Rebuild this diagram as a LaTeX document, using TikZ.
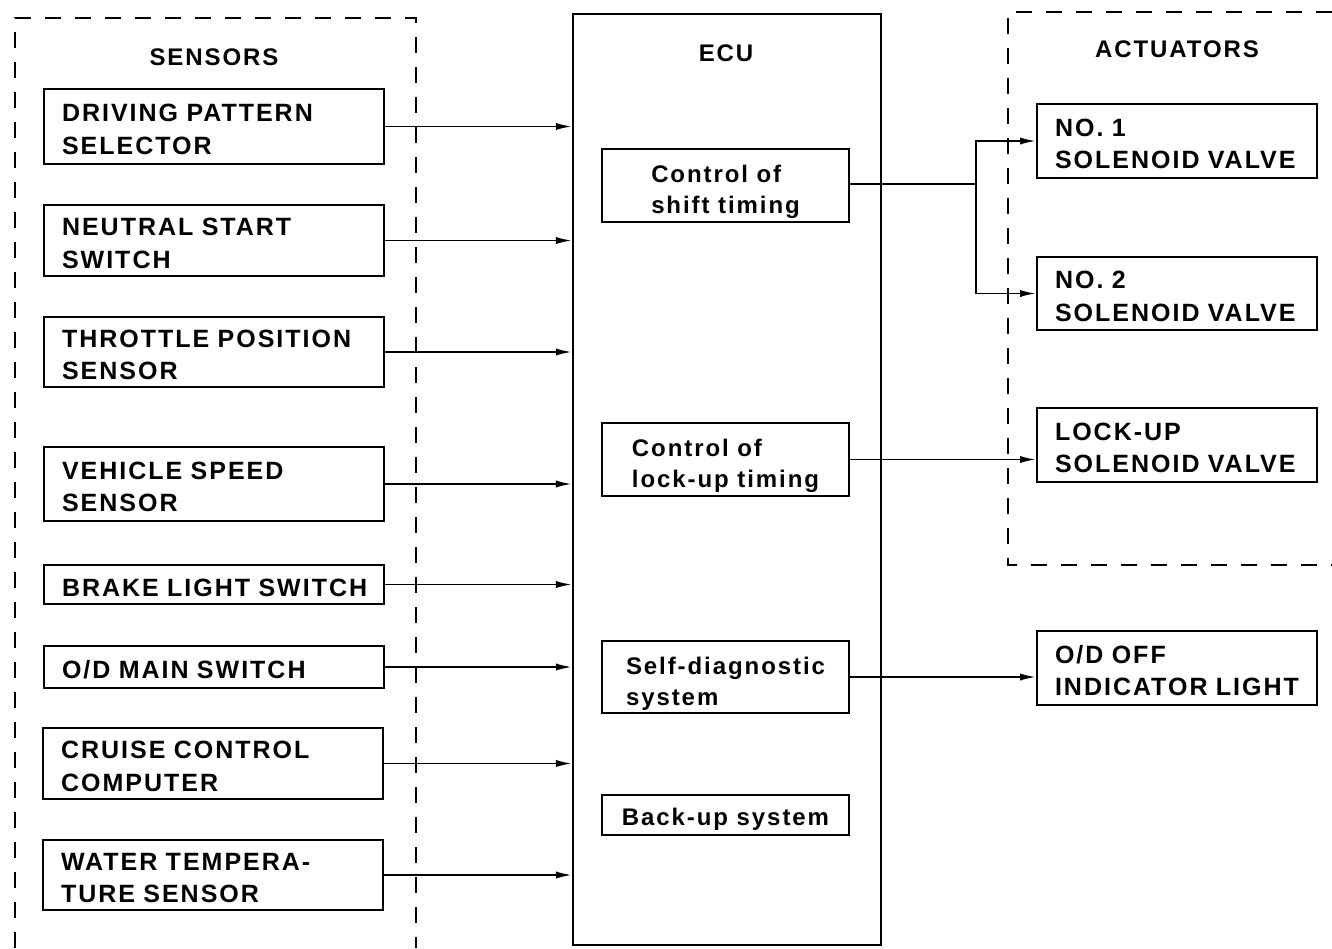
\documentclass[tikz,border=0pt]{standalone}
\usepackage{fontspec}
\setmainfont{Liberation Sans}[LetterSpace=8]
\usetikzlibrary{arrows.meta}
\newcommand{\cstrut}{\rule{0pt}{15.5pt}}
\newcommand{\sstrut}{\rule{0pt}{12.5pt}}
\begin{document}
\begin{tikzpicture}[x=0.5pt,y=-0.5pt,
  font=\bfseries\fontsize{12}{16.3}\selectfont,
  box/.style={draw, line width=1pt, inner ysep=0pt, inner xsep=9pt,
    execute at begin node={\rule{0pt}{14.5pt}},
    execute at end node={\rule[-3pt]{0pt}{3pt}}},
  capsfont/.style={font=\bfseries\fontsize{12.5}{16.4}\selectfont},
  sbox/.style={box, capsfont, text width=152pt, align=left},
  abox/.style={box, capsfont, text width=122pt, align=left},
  cbox/.style={draw, line width=1pt, inner ysep=0pt,
    font=\bfseries\fontsize{12}{15.5}\selectfont,
    minimum width=123.5pt, align=left, inner xsep=2pt},
  ecubox/.style={draw, line width=1.1pt, minimum width=154pt, minimum height=465.5pt, inner sep=0pt},
  frame/.style={dash pattern=on 8pt off 7pt, line width=0.8pt},
  conn/.style={line width=0.95pt},
  arr/.style={conn, -{Latex[length=8pt,width=3.6pt]}},
  title/.style={inner sep=0pt}
]
\useasboundingbox (0,0) rectangle (1332,948);

% group frames
\draw[frame] (15,948) -- (15,18) -- (416,18) -- (416,948);
\draw[frame] (1332,12) -- (1008,12) -- (1008,565) -- (1332,565);

% titles
\node[title] (tsens) at (214,57) {SENSORS};
\node[title] (tecu) at (726,53) {ECU};
\node[title] (tact) at (1177,49) {ACTUATORS};

% ECU
\node[ecubox] (ecu) at (727,479.5) {};

% sensors
\node[sbox, minimum height=37.5pt] (s1) at (214,126.5) {DRIVING PATTERN\\SELECTOR};
\node[sbox, minimum height=35.5pt] (s2) at (214,240.5) {NEUTRAL START\\SWITCH};
\node[sbox, minimum height=35pt]   (s3) at (214,352) {THROTTLE POSITION\\SENSOR};
\node[sbox, minimum height=37pt]   (s4) at (214,484) {VEHICLE SPEED\\SENSOR};
\node[sbox, minimum height=19.5pt] (s5) at (214,584.5) {\mbox{BRAKE LIGHT SWITCH}};
\node[sbox, minimum height=21pt]   (s6) at (214,667) {O/D MAIN SWITCH};
\node[sbox, minimum height=35.5pt] (s7) at (213,763.5) {CRUISE CONTROL\\COMPUTER};
\node[sbox, minimum height=35pt]   (s8) at (213,875) {WATER TEMPERA-\\TURE SENSOR};

% ECU inner functions
\node[cbox, minimum height=36.5pt] (c1) at (725.5,185) {\cstrut Control of\\shift timing};
\node[cbox, minimum height=36.5pt] (c2) at (725.5,459.5) {\cstrut Control of\\lock-up timing};
\node[cbox, minimum height=36pt]   (c3) at (725.5,677) {\cstrut Self-diagnostic\\system};
\node[cbox, minimum height=20pt]   (c4) at (725.5,815) {\sstrut Back-up system};

% actuators
\node[abox, minimum height=37pt]   (a1) at (1177,141) {NO. 1\\SOLENOID VALVE};
\node[abox, minimum height=36.5pt] (a2) at (1177,293.5) {NO. 2\\SOLENOID VALVE};
\node[abox, minimum height=37pt]   (a3) at (1177,445) {LOCK-UP\\SOLENOID VALVE};
\node[abox, minimum height=37pt]   (a4) at (1177,668) {O/D OFF\\INDICATOR LIGHT};

% connectors sensors -> ECU
\foreach \s in {s1,s2,s3,s4,s5,s6,s7,s8}
  \draw[arr] (\s.east) -- (\s.east -| ecu.west);

% ECU -> actuators
\coordinate (br) at (976,184);
\draw[conn] (c1.east |- br) -- (br);
\draw[arr] (br) |- (a1.west);
\draw[arr] (br) |- (a2.west);
\draw[arr] (c2.east) -- (c2.east -| a3.west);
\draw[arr] (c3.east) -- (c3.east -| a4.west);
\end{tikzpicture}
\end{document}
